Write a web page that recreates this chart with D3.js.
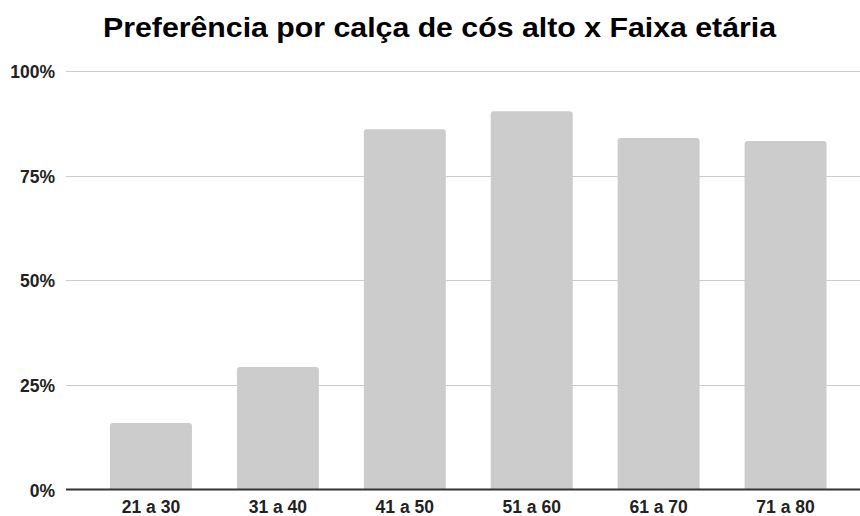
<!DOCTYPE html>
<html><head><meta charset="utf-8">
<script src="https://cdn.jsdelivr.net/npm/d3@7"></script>
<style>body{margin:0;background:#fff}svg{display:block}</style>
</head><body>
<script>
const title = "Preferência por calça de cós alto x Faixa etária";
const categories = ["21 a 30","31 a 40","41 a 50","51 a 60","61 a 70","71 a 80"];
const values = [0.159, 0.293, 0.861, 0.904, 0.840, 0.833];
const yTicks = [0, 0.25, 0.5, 0.75, 1];
const yTickLabels = ["0%","25%","50%","75%","100%"];

const W = 860, H = 516;
const svg = d3.select("body").append("svg").attr("width", W).attr("height", H);
const font = "'Liberation Sans', Arial, sans-serif";

const y = d3.scaleLinear().domain([0,1]).range([489.5, 71]);
const x = d3.scaleBand().domain(categories).range([87.5, 849]).paddingInner(0.354).paddingOuter(0.177);

// gridlines
svg.append("g").selectAll("line").data(yTicks.filter(d=>d>0)).join("line")
  .attr("x1", 66).attr("x2", W).attr("y1", d=>Math.round(y(d))+0.5).attr("y2", d=>Math.round(y(d))+0.5)
  .attr("stroke", "#cccccc").attr("stroke-width", 1);

// y labels
svg.append("g").selectAll("text").data(yTicks).join("text")
  .attr("x", 55).attr("y", d=>y(d)+7).attr("text-anchor","end")
  .attr("font-family", font).attr("font-weight","bold").attr("font-size", 17.5).attr("fill","#222")
  .text((d,i)=>yTickLabels[i]);

// bars with rounded top corners
const r = 3;
svg.append("g").selectAll("path").data(values).join("path")
  .attr("fill", "#cccccc")
  .attr("d", (d,i)=>{
    const x0 = x(categories[i]), w = x.bandwidth(), y0 = y(d), yb = y(0);
    return `M${x0},${yb} V${y0+r} Q${x0},${y0} ${x0+r},${y0} H${x0+w-r} Q${x0+w},${y0} ${x0+w},${y0+r} V${yb} Z`;
  });

// axis line
svg.append("line").attr("x1", 66).attr("x2", W).attr("y1", 489.5).attr("y2", 489.5)
  .attr("stroke", "#333").attr("stroke-width", 2);

// x labels
svg.append("g").selectAll("text").data(categories).join("text")
  .attr("x", d=>x(d)+x.bandwidth()/2).attr("y", 513).attr("text-anchor","middle")
  .attr("font-family", font).attr("font-weight","bold").attr("font-size", 17.5).attr("fill","#222")
  .text(d=>d);

// title
const t = svg.append("text").attr("x", 439.5).attr("y", 37).attr("text-anchor","middle")
  .attr("font-family", font).attr("font-weight","bold").attr("font-size", 28).attr("fill","#000")
  .text(title);
t.attr("textLength", 673).attr("lengthAdjust","spacingAndGlyphs");
</script>
</body></html>
